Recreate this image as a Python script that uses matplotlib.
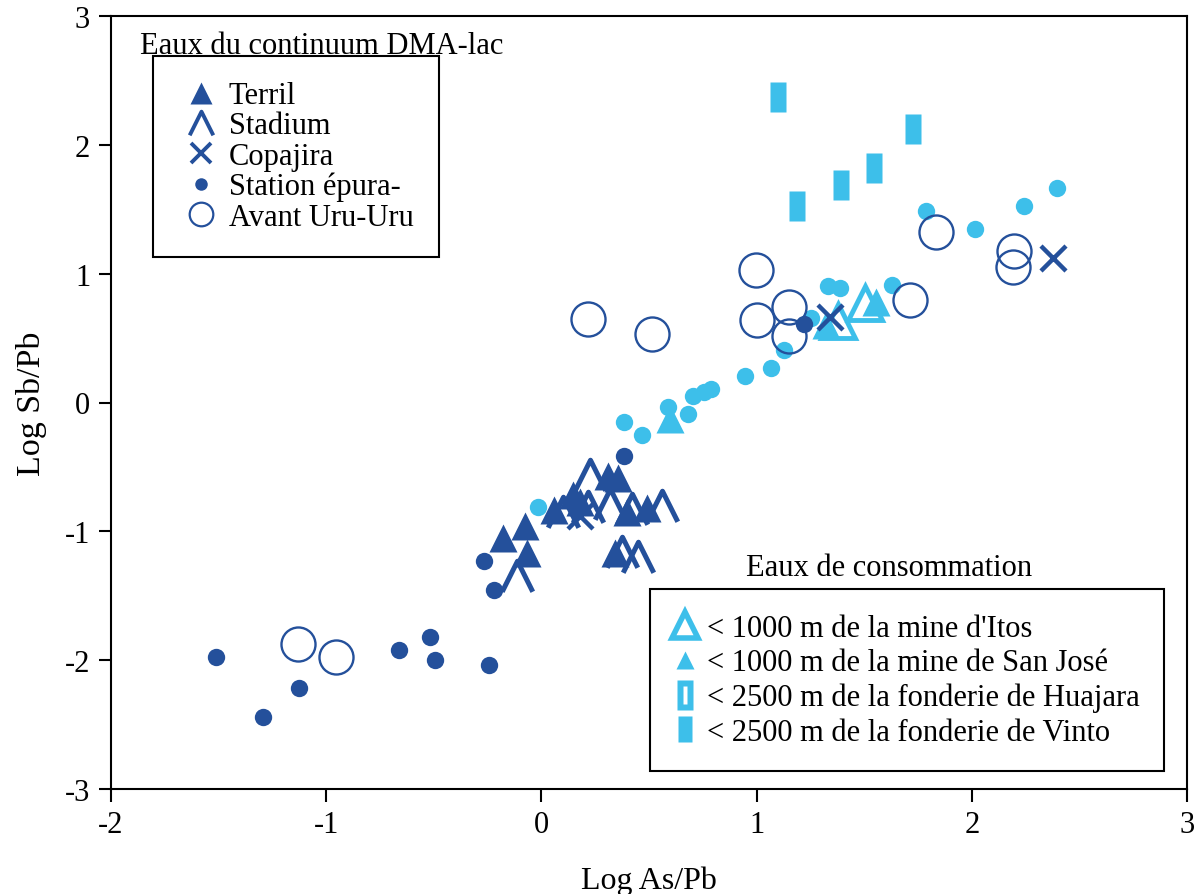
import matplotlib
matplotlib.use("Agg")
import matplotlib.pyplot as plt
from matplotlib.path import Path
from matplotlib.lines import Line2D

# ---------- COLOURS / FONT ----------
DARK = "#24509b"
CYAN = "#3dbfea"
plt.rcParams["font.family"] = ["Liberation Serif", "DejaVu Serif"]
plt.rcParams["axes.unicode_minus"] = False
FS = 22

# ---------- DATA (log As/Pb, log Sb/Pb) ----------
# Eaux du continuum DMA-lac
terril_x = [-0.179, -0.077, -0.067, 0.058, 0.146, 0.179, 0.309, 0.355, 0.490, 0.342, 0.397]
terril_y = [-1.052, -0.959, -1.168, -0.835, -0.718, -0.773, -0.571, -0.586, -0.819, -1.168, -0.850]

stadium_x = [-0.114, 0.225, 0.216, 0.318, 0.560, 0.374, 0.448, 0.421, 0.100]
stadium_y = [-1.347, -0.563, -0.811, -0.788, -0.803, -1.161, -1.200, -0.827, -0.850]

copajira_x = [2.377, 1.341, 0.180]
copajira_y = [1.122, 0.664, -0.880]

station_x = [-1.513, -1.294, -1.127, -0.662, -0.518, -0.495, -0.244, -0.267, -0.221, 0.383, 1.220]
station_y = [-1.976, -2.442, -2.217, -1.918, -1.817, -2.000, -2.038, -1.231, -1.456, -0.415, 0.609]

uru_x = [-1.131, -0.955, 0.216, 0.513, 0.997, 1.001, 1.150, 1.150, 1.712, 1.833, 2.196, 2.191]
uru_y = [-1.875, -1.976, 0.648, 0.532, 1.029, 0.640, 0.741, 0.516, 0.796, 1.324, 1.176, 1.052]

# Eaux de consommation
cyan_dot_x = [-0.016, 0.383, 0.467, 0.588, 0.681, 0.704, 0.755, 0.788, 0.946, 1.066, 1.127,
              1.252, 1.332, 1.387, 1.629, 1.787, 2.014, 2.242, 2.396]
cyan_dot_y = [-0.811, -0.151, -0.252, -0.035, -0.089, 0.050, 0.082, 0.105, 0.206, 0.268, 0.408,
              0.656, 0.905, 0.889, 0.912, 1.487, 1.348, 1.526, 1.665]

itos_x = [1.380, 1.503]
itos_y = [0.633, 0.775]

sanjose_x = [0.597, 1.322, 1.554]
sanjose_y = [-0.128, 0.601, 0.780]

vinto_x = [1.099, 1.187, 1.391, 1.545, 1.726]
vinto_y = [2.372, 1.522, 1.686, 1.818, 2.121]

# ---------- MARKER SHAPES ----------
chevron = Path([(-0.5, -0.5), (0, 0.5), (0.5, -0.5)],
               [Path.MOVETO, Path.LINETO, Path.LINETO])
bar = Path([(-0.25, -0.5), (0.25, -0.5), (0.25, 0.5), (-0.25, 0.5), (-0.25, -0.5)],
           [Path.MOVETO, Path.LINETO, Path.LINETO, Path.LINETO, Path.CLOSEPOLY])
slit = Path([(-0.25, -0.5), (0.25, -0.5), (0.25, 0.5), (-0.25, 0.5), (-0.25, -0.5),
             (-0.05, -0.3), (-0.05, 0.3), (0.05, 0.3), (0.05, -0.3), (-0.05, -0.3)],
            [Path.MOVETO, Path.LINETO, Path.LINETO, Path.LINETO, Path.CLOSEPOLY,
             Path.MOVETO, Path.LINETO, Path.LINETO, Path.LINETO, Path.CLOSEPOLY])

# ---------- PLOT ----------
fig = plt.figure(figsize=(12.01, 8.95), dpi=100)
ax = fig.add_axes([111 / 1201, 1 - 790 / 895, 1076 / 1201, 773 / 895])

ax.plot(cyan_dot_x, cyan_dot_y, "o", ms=12.5, color=CYAN, mec="none")
ax.plot(vinto_x, vinto_y, ls="none", marker=bar, ms=22, color=CYAN, mec="none")
ax.plot(uru_x, uru_y, "o", ms=24.5, mfc="none", mec=DARK, mew=1.7)
ax.plot(station_x, station_y, "o", ms=12.5, color=DARK, mec="none")
ax.plot(terril_x, terril_y, "^", ms=20, color=DARK, mec="none")
ax.plot(stadium_x, stadium_y, ls="none", marker=chevron, ms=22, mfc="none",
        mec=DARK, mew=3.6)
ax.plot(itos_x, itos_y, "^", ms=24, mfc="white", mec=CYAN, mew=3.5)
ax.plot(sanjose_x, sanjose_y, "^", ms=20, color=CYAN, mec="none")
ax.plot(copajira_x, copajira_y, "x", ms=18, mec=DARK, mew=3.2)

ax.set_xlim(-2, 3)
ax.set_ylim(-3, 3)
ax.set_xticks(range(-2, 4))
ax.set_yticks(range(-3, 4))
ax.tick_params(direction="out", length=9, width=1.5, labelsize=FS, pad=6)
for s in ax.spines.values():
    s.set_linewidth(1.5)
ax.set_xlabel("Log As/Pb", fontsize=23, labelpad=19)
ax.set_ylabel("Log Sb/Pb", fontsize=24.5, labelpad=13)

# ---------- LEGENDS ----------
h1 = [
    Line2D([], [], ls="none", marker="^", ms=16, color=DARK, mec="none"),
    Line2D([], [], ls="none", marker=chevron, ms=17, mfc="none", mec=DARK, mew=2.8),
    Line2D([], [], ls="none", marker="x", ms=15, mec=DARK, mew=2.8),
    Line2D([], [], ls="none", marker="o", ms=9, color=DARK, mec="none"),
    Line2D([], [], ls="none", marker="o", ms=17, mfc="none", mec=DARK, mew=1.6),
]
l1 = ["Terril", "Stadium", "Copajira", "Station épura-", "Avant Uru-Uru"]
leg1 = ax.legend(h1, l1, loc="upper left", bbox_to_anchor=(0.039, 0.948),
                 borderaxespad=0, fontsize=FS, frameon=True, fancybox=False,
                 edgecolor="black", framealpha=1, labelspacing=0.04,
                 handlelength=1.5, handletextpad=0.16, borderpad=0.82)
leg1.get_frame().set_linewidth(1.5)
ax.add_artist(leg1)

h2 = [
    Line2D([], [], ls="none", marker="^", ms=19, mfc="white", mec=CYAN, mew=4),
    Line2D([], [], ls="none", marker="^", ms=13, color=CYAN, mec="none"),
    Line2D([], [], ls="none", marker=slit, ms=22, color=CYAN, mec="none"),
    Line2D([], [], ls="none", marker=bar, ms=19, color=CYAN, mec="none"),
]
l2 = ["< 1000 m de la mine d'Itos", "< 1000 m de la mine de San José",
      "< 2500 m de la fonderie de Huajara", "< 2500 m de la fonderie de Vinto"]
leg2 = ax.legend(h2, l2, loc="lower left", bbox_to_anchor=(0.501, 0.023),
                 borderaxespad=0, fontsize=FS, frameon=True, fancybox=False,
                 edgecolor="black", framealpha=1, labelspacing=0.18,
                 handlelength=0.7, handletextpad=0.36, borderpad=0.8)
leg2.get_frame().set_linewidth(1.5)

ax.text(0.027, 0.962, "Eaux du continuum DMA-lac", transform=ax.transAxes,
        fontsize=FS, va="center", ha="left")
ax.text(0.590, 0.287, "Eaux de consommation", transform=ax.transAxes,
        fontsize=FS, va="center", ha="left")

fig.savefig("out.png", dpi=100)
